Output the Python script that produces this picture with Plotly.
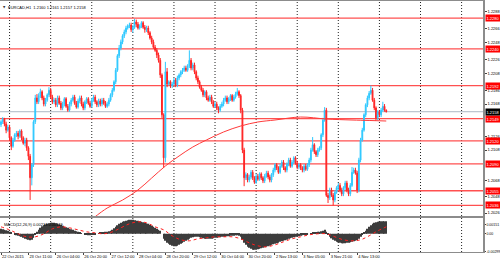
import plotly.graph_objects as go

symbol_title = "EURCAD,H1  1.2160 1.2161 1.2157 1.2158"
macd_title = "MACD(12,26,9) 0.00213 0.00119"

opens = [
    1.2141, 1.2145, 1.2149, 1.2142, 1.2134, 1.2138, 1.2124, 1.2113, 1.2121, 1.2128,
    1.2130, 1.2126, 1.2133, 1.2124, 1.2117, 1.2121, 1.2111, 1.2100, 1.2072, 1.2089,
    1.2145, 1.2176, 1.2171, 1.2179, 1.2184, 1.2176, 1.2168, 1.2173, 1.2180, 1.2186,
    1.2177, 1.2171, 1.2173, 1.2167, 1.2176, 1.2169, 1.2163, 1.2168, 1.2175, 1.2165,
    1.2160, 1.2168, 1.2173, 1.2177, 1.2169, 1.2164, 1.2172, 1.2176, 1.2168, 1.2163,
    1.2171, 1.2175, 1.2169, 1.2165, 1.2173, 1.2177, 1.2171, 1.2167, 1.2172, 1.2168,
    1.2173, 1.2169, 1.2165, 1.2168, 1.2173, 1.2180, 1.2186, 1.2197, 1.2212, 1.2231,
    1.2241, 1.2249, 1.2257, 1.2262, 1.2267, 1.2270, 1.2271, 1.2265, 1.2268, 1.2275,
    1.2272, 1.2267, 1.2270, 1.2274, 1.2268, 1.2265, 1.2267, 1.2261, 1.2254, 1.2249,
    1.2242, 1.2238, 1.2232, 1.2225, 1.2206, 1.2154, 1.2098, 1.2210, 1.2194, 1.2197,
    1.2192, 1.2194, 1.2199, 1.2193, 1.2202, 1.2206, 1.2210, 1.2212, 1.2215, 1.2212,
    1.2218, 1.2225, 1.2215, 1.2219, 1.2210, 1.2202, 1.2197, 1.2190, 1.2186, 1.2180,
    1.2184, 1.2176, 1.2173, 1.2177, 1.2171, 1.2165, 1.2168, 1.2163, 1.2160, 1.2165,
    1.2168, 1.2173, 1.2176, 1.2171, 1.2175, 1.2179, 1.2173, 1.2177, 1.2181, 1.2184,
    1.2179, 1.2160, 1.2108, 1.2072, 1.2076, 1.2069, 1.2073, 1.2079, 1.2072, 1.2066,
    1.2074, 1.2070, 1.2077, 1.2072, 1.2068, 1.2074, 1.2078, 1.2073, 1.2069, 1.2076,
    1.2082, 1.2089, 1.2085, 1.2079, 1.2087, 1.2092, 1.2085, 1.2082, 1.2090, 1.2095,
    1.2087, 1.2092, 1.2098, 1.2091, 1.2086, 1.2089, 1.2085, 1.2082, 1.2087, 1.2083,
    1.2089, 1.2095, 1.2108, 1.2115, 1.2106, 1.2102, 1.2108, 1.2111, 1.2128, 1.2147,
    1.2160, 1.2049, 1.2046, 1.2056, 1.2049, 1.2043, 1.2053, 1.2059, 1.2062, 1.2056,
    1.2051, 1.2059, 1.2065, 1.2056, 1.2051, 1.2062, 1.2079, 1.2082, 1.2078, 1.2056,
    1.2095, 1.2121, 1.2134, 1.2154, 1.2167, 1.2176, 1.2182, 1.2186, 1.2173, 1.2163,
    1.2150, 1.2158, 1.2154, 1.2160, 1.2165, 1.2160,
]

highs = [
    1.2147, 1.2151, 1.2150, 1.2145, 1.2141, 1.2141, 1.2126, 1.2124, 1.2130, 1.2133,
    1.2133, 1.2135, 1.2135, 1.2126, 1.2124, 1.2124, 1.2113, 1.2103, 1.2091, 1.2147,
    1.2180, 1.2181, 1.2182, 1.2188, 1.2186, 1.2179, 1.2176, 1.2182, 1.2190, 1.2189,
    1.2180, 1.2176, 1.2176, 1.2179, 1.2179, 1.2172, 1.2171, 1.2177, 1.2177, 1.2168,
    1.2171, 1.2176, 1.2180, 1.2180, 1.2172, 1.2175, 1.2179, 1.2179, 1.2171, 1.2173,
    1.2177, 1.2177, 1.2172, 1.2176, 1.2180, 1.2180, 1.2173, 1.2175, 1.2175, 1.2176,
    1.2176, 1.2172, 1.2171, 1.2176, 1.2182, 1.2189, 1.2199, 1.2215, 1.2233, 1.2245,
    1.2252, 1.2259, 1.2265, 1.2270, 1.2272, 1.2274, 1.2274, 1.2271, 1.2279, 1.2278,
    1.2275, 1.2272, 1.2276, 1.2276, 1.2271, 1.2270, 1.2270, 1.2263, 1.2257, 1.2252,
    1.2245, 1.2241, 1.2235, 1.2228, 1.2208, 1.2156, 1.2223, 1.2215, 1.2199, 1.2199,
    1.2197, 1.2202, 1.2202, 1.2205, 1.2208, 1.2212, 1.2215, 1.2218, 1.2218, 1.2220,
    1.2238, 1.2228, 1.2222, 1.2222, 1.2212, 1.2205, 1.2199, 1.2193, 1.2189, 1.2186,
    1.2186, 1.2179, 1.2180, 1.2180, 1.2173, 1.2171, 1.2171, 1.2165, 1.2168, 1.2171,
    1.2176, 1.2179, 1.2179, 1.2177, 1.2181, 1.2181, 1.2180, 1.2184, 1.2189, 1.2186,
    1.2181, 1.2163, 1.2111, 1.2079, 1.2078, 1.2076, 1.2082, 1.2082, 1.2074, 1.2077,
    1.2077, 1.2079, 1.2079, 1.2074, 1.2077, 1.2081, 1.2081, 1.2076, 1.2078, 1.2085,
    1.2091, 1.2091, 1.2087, 1.2090, 1.2095, 1.2095, 1.2087, 1.2092, 1.2098, 1.2098,
    1.2095, 1.2100, 1.2100, 1.2094, 1.2091, 1.2091, 1.2087, 1.2090, 1.2090, 1.2091,
    1.2098, 1.2111, 1.2125, 1.2117, 1.2108, 1.2111, 1.2113, 1.2130, 1.2150, 1.2164,
    1.2163, 1.2052, 1.2059, 1.2059, 1.2052, 1.2056, 1.2061, 1.2065, 1.2065, 1.2059,
    1.2061, 1.2068, 1.2068, 1.2059, 1.2065, 1.2086, 1.2085, 1.2085, 1.2081, 1.2098,
    1.2124, 1.2137, 1.2156, 1.2169, 1.2179, 1.2185, 1.2192, 1.2189, 1.2176, 1.2165,
    1.2160, 1.2160, 1.2163, 1.2171, 1.2168, 1.2161,
]

lows = [
    1.2138, 1.2142, 1.2139, 1.2130, 1.2132, 1.2120, 1.2108, 1.2111, 1.2119, 1.2125,
    1.2122, 1.2124, 1.2121, 1.2115, 1.2113, 1.2107, 1.2095, 1.2043, 1.2062, 1.2086,
    1.2142, 1.2168, 1.2168, 1.2176, 1.2173, 1.2165, 1.2165, 1.2171, 1.2177, 1.2175,
    1.2168, 1.2168, 1.2164, 1.2164, 1.2167, 1.2160, 1.2160, 1.2165, 1.2163, 1.2158,
    1.2158, 1.2165, 1.2171, 1.2167, 1.2162, 1.2162, 1.2169, 1.2165, 1.2160, 1.2160,
    1.2168, 1.2167, 1.2163, 1.2163, 1.2171, 1.2168, 1.2164, 1.2164, 1.2165, 1.2165,
    1.2167, 1.2163, 1.2163, 1.2165, 1.2171, 1.2177, 1.2184, 1.2194, 1.2210, 1.2228,
    1.2238, 1.2246, 1.2254, 1.2259, 1.2265, 1.2267, 1.2262, 1.2261, 1.2266, 1.2268,
    1.2265, 1.2265, 1.2267, 1.2266, 1.2261, 1.2262, 1.2258, 1.2252, 1.2246, 1.2240,
    1.2236, 1.2228, 1.2222, 1.2202, 1.2150, 1.2085, 1.2092, 1.2190, 1.2192, 1.2189,
    1.2189, 1.2192, 1.2190, 1.2190, 1.2199, 1.2203, 1.2207, 1.2210, 1.2210, 1.2210,
    1.2215, 1.2212, 1.2212, 1.2207, 1.2199, 1.2194, 1.2188, 1.2184, 1.2177, 1.2177,
    1.2173, 1.2171, 1.2171, 1.2168, 1.2163, 1.2163, 1.2160, 1.2156, 1.2158, 1.2163,
    1.2165, 1.2171, 1.2168, 1.2168, 1.2172, 1.2171, 1.2171, 1.2175, 1.2179, 1.2176,
    1.2156, 1.2104, 1.2061, 1.2069, 1.2066, 1.2066, 1.2070, 1.2069, 1.2064, 1.2064,
    1.2068, 1.2068, 1.2069, 1.2065, 1.2065, 1.2072, 1.2070, 1.2066, 1.2066, 1.2073,
    1.2079, 1.2082, 1.2077, 1.2077, 1.2085, 1.2082, 1.2079, 1.2079, 1.2087, 1.2085,
    1.2085, 1.2090, 1.2089, 1.2083, 1.2083, 1.2082, 1.2079, 1.2079, 1.2081, 1.2081,
    1.2086, 1.2092, 1.2106, 1.2103, 1.2099, 1.2099, 1.2106, 1.2108, 1.2125, 1.2145,
    1.2047, 1.2039, 1.2043, 1.2047, 1.2036, 1.2040, 1.2051, 1.2056, 1.2053, 1.2048,
    1.2048, 1.2056, 1.2053, 1.2048, 1.2048, 1.2060, 1.2077, 1.2076, 1.2052, 1.2053,
    1.2092, 1.2119, 1.2132, 1.2151, 1.2164, 1.2173, 1.2180, 1.2171, 1.2160, 1.2146,
    1.2147, 1.2151, 1.2151, 1.2158, 1.2158, 1.2157,
]

closes = [
    1.2145, 1.2149, 1.2142, 1.2134, 1.2138, 1.2124, 1.2113, 1.2121, 1.2128, 1.2130,
    1.2126, 1.2133, 1.2124, 1.2117, 1.2121, 1.2111, 1.2100, 1.2072, 1.2089, 1.2145,
    1.2176, 1.2171, 1.2179, 1.2184, 1.2176, 1.2168, 1.2173, 1.2180, 1.2186, 1.2177,
    1.2171, 1.2173, 1.2167, 1.2176, 1.2169, 1.2163, 1.2168, 1.2175, 1.2165, 1.2160,
    1.2168, 1.2173, 1.2177, 1.2169, 1.2164, 1.2172, 1.2176, 1.2168, 1.2163, 1.2171,
    1.2175, 1.2169, 1.2165, 1.2173, 1.2177, 1.2171, 1.2167, 1.2172, 1.2168, 1.2173,
    1.2169, 1.2165, 1.2168, 1.2173, 1.2180, 1.2186, 1.2197, 1.2212, 1.2231, 1.2241,
    1.2249, 1.2257, 1.2262, 1.2267, 1.2270, 1.2271, 1.2265, 1.2268, 1.2275, 1.2272,
    1.2267, 1.2270, 1.2274, 1.2268, 1.2265, 1.2267, 1.2261, 1.2254, 1.2249, 1.2242,
    1.2238, 1.2232, 1.2225, 1.2206, 1.2154, 1.2098, 1.2210, 1.2194, 1.2197, 1.2192,
    1.2194, 1.2199, 1.2193, 1.2202, 1.2206, 1.2210, 1.2212, 1.2215, 1.2212, 1.2218,
    1.2225, 1.2215, 1.2219, 1.2210, 1.2202, 1.2197, 1.2190, 1.2186, 1.2180, 1.2184,
    1.2176, 1.2173, 1.2177, 1.2171, 1.2165, 1.2168, 1.2163, 1.2160, 1.2165, 1.2168,
    1.2173, 1.2176, 1.2171, 1.2175, 1.2179, 1.2173, 1.2177, 1.2181, 1.2184, 1.2179,
    1.2160, 1.2108, 1.2072, 1.2076, 1.2069, 1.2073, 1.2079, 1.2072, 1.2066, 1.2074,
    1.2070, 1.2077, 1.2072, 1.2068, 1.2074, 1.2078, 1.2073, 1.2069, 1.2076, 1.2082,
    1.2089, 1.2085, 1.2079, 1.2087, 1.2092, 1.2085, 1.2082, 1.2090, 1.2095, 1.2087,
    1.2092, 1.2098, 1.2091, 1.2086, 1.2089, 1.2085, 1.2082, 1.2087, 1.2083, 1.2089,
    1.2095, 1.2108, 1.2115, 1.2106, 1.2102, 1.2108, 1.2111, 1.2128, 1.2147, 1.2160,
    1.2049, 1.2046, 1.2056, 1.2049, 1.2043, 1.2053, 1.2059, 1.2062, 1.2056, 1.2051,
    1.2059, 1.2065, 1.2056, 1.2051, 1.2062, 1.2079, 1.2082, 1.2078, 1.2056, 1.2095,
    1.2121, 1.2134, 1.2154, 1.2167, 1.2176, 1.2182, 1.2186, 1.2173, 1.2163, 1.2150,
    1.2158, 1.2154, 1.2160, 1.2165, 1.2160, 1.2158,
]

bars = list(range(len(closes)))

time_tick_bars = [0, 16, 32, 48, 64, 80, 96, 112, 128, 144, 160, 176, 192, 208]
time_tick_labels = ["22 Oct 2015", "23 Oct 11:00", "26 Oct 04:00", "26 Oct 20:00",
                    "27 Oct 12:00", "28 Oct 04:00", "28 Oct 20:00", "29 Oct 12:00",
                    "30 Oct 04:00", "30 Oct 20:00", "2 Nov 13:00", "3 Nov 05:00",
                    "3 Nov 21:00", "4 Nov 13:00"]
day_separator_bars = [5, 29, 53, 77, 101, 125, 149, 173, 197, 221, 245, 269]

price_ticks = [1.2288, 1.2266, 1.2248, 1.2226, 1.2208, 1.2186, 1.2168,
               1.2126, 1.2108, 1.2068, 1.2048, 1.2026]
level_prices = [1.2280, 1.2240, 1.2192, 1.2149, 1.2120, 1.2090, 1.2055, 1.2036]
current_price = 1.2158

ma_bars = [54, 62, 71, 80, 88, 96, 104, 112, 120, 130, 140, 150, 160, 175, 190, 205, 215, 225]
ma_values = [1.20195, 1.20325, 1.20429, 1.20560, 1.20716, 1.20873, 1.21003, 1.21120, 1.21212,
             1.21316, 1.21394, 1.21446, 1.21472, 1.21511, 1.21485, 1.21472, 1.21466, 1.21459]

macd_hist = [
    0.00085, 0.00077, 0.00068, 0.00060, 0.00051, 0.00034,
    0.00017, 0.0, -0.00017, -0.00026, -0.00034, -0.00043,
    -0.00051, -0.00068, -0.00085, -0.00094, -0.00102, -0.00111, -0.00102, -0.00068,
    -0.00017, 0.00034, 0.00068, 0.00102,
    0.00128, 0.00145, 0.00162, 0.00171, 0.00179, 0.00188, 0.00188, 0.00188, 0.00179, 0.00171, 0.00162, 0.00154,
    0.00136, 0.00119, 0.00111, 0.00102, 0.00085, 0.00077, 0.00068, 0.00051, 0.00043, 0.00034, 0.00017,
    0.00009, 0.0, -0.00009, -0.00017, -0.00026, -0.00026, -0.00017, -0.00017, -0.00009,
    0.0, 0.00009, 0.00017, 0.00017, 0.00026, 0.00034, 0.00034, 0.00043, 0.00051,
    0.00068, 0.00094, 0.00119, 0.00145, 0.00171, 0.00188, 0.00205, 0.00213, 0.00222,
    0.00230, 0.00239, 0.00239, 0.00239, 0.00230, 0.00222, 0.00222,
    0.00213, 0.00205, 0.00196, 0.00188, 0.00179, 0.00171, 0.00154, 0.00136, 0.00119, 0.00102, 0.00085, 0.00068,
    0.00051, 0.0,
    -0.00085, -0.00119, -0.00154, -0.00171, -0.00188, -0.00205, -0.00213, -0.00213, -0.00205, -0.00188, -0.00171, -0.00154,
    -0.00136, -0.00119, -0.00102, -0.00085, -0.00068, -0.00060,
    -0.00051, -0.00051, -0.00051, -0.00060, -0.00068, -0.00077, -0.00085, -0.00085, -0.00085, -0.00085, -0.00085, -0.00077, -0.00068,
    -0.00068, -0.00060, -0.00060, -0.00051, -0.00051, -0.00051, -0.00043, -0.00043, -0.00034, -0.00034, -0.00034, -0.00026, -0.00026, -0.00034,
    -0.00051, -0.00102, -0.00154, -0.00188, -0.00222, -0.00239,
    -0.00256, -0.00273, -0.00273, -0.00273, -0.00264, -0.00256, -0.00247, -0.00239, -0.00230, -0.00222, -0.00213, -0.00205,
    -0.00188, -0.00179, -0.00171, -0.00162, -0.00154, -0.00136, -0.00128, -0.00119, -0.00111, -0.00102, -0.00085, -0.00077, -0.00068,
    -0.00060, -0.00051, -0.00051, -0.00043, -0.00034, -0.00026, -0.00017, -0.00017, -0.00009, 0.0, 0.00009, 0.00017, 0.00017, 0.00026, 0.00034, 0.00034, 0.00043,
    0.00051, 0.00068, 0.00034,
    -0.00017, -0.00051, -0.00077, -0.00102, -0.00119, -0.00136, -0.00145, -0.00154, -0.00162, -0.00162,
    -0.00162, -0.00154, -0.00154, -0.00145, -0.00136, -0.00128, -0.00119, -0.00111,
    -0.00085, -0.00051, -0.00017, 0.00017, 0.00051, 0.00085, 0.00119, 0.00145,
    0.00171, 0.00188, 0.00196, 0.00205, 0.00205, 0.00213, 0.00213, 0.00213, 0.00213,
]

signal_bars = [0, 5, 10, 15, 20, 25, 30, 35, 40, 45, 50, 55, 60, 65, 70, 75, 80, 85, 90, 95,
               100, 105, 110, 115, 120, 125, 130, 135, 140, 145, 150, 155, 160, 165, 170,
               175, 180, 185, 190, 195, 200, 205, 210, 215, 220, 225]
signal_values = [0.00119, 0.00068, 0.0, -0.00051, -0.00051, 0.0, 0.00085, 0.00119, 0.00102,
                 0.00068, 0.00034, 0.00017, 0.0, 0.00034, 0.00102, 0.00171, 0.00205, 0.00188,
                 0.00119, 0.00068, -0.00034, -0.00102, -0.00119, -0.00085, -0.00068, -0.00051,
                 -0.00051, -0.00051, -0.00085, -0.00154, -0.00205, -0.00222, -0.00188, -0.00136,
                 -0.00085, -0.00051, -0.00017, 0.0, 0.0, -0.00051, -0.00102, -0.00119, -0.00102,
                 -0.00034, 0.00051, 0.00119]

macd_tick_vals = [0.00151, 0.0, -0.00299]
macd_tick_text = ["0.00151", "0.00", "-0.00299"]

FONT = "Liberation Sans, Arial, sans-serif"
AXIS_GRAY = "#8c8c8c"

fig = go.Figure()

fig.add_trace(go.Candlestick(
    x=bars, open=opens, high=highs, low=lows, close=closes,
    increasing=dict(line=dict(color="#2EC8FF", width=1), fillcolor="#2EC8FF"),
    decreasing=dict(line=dict(color="#FF2424", width=1), fillcolor="#FF2424"),
    whiskerwidth=0, hoverinfo="skip", xaxis="x", yaxis="y",
))

fig.add_trace(go.Scatter(
    x=ma_bars, y=ma_values, mode="lines",
    line=dict(color="#FF3A3A", width=1, shape="spline"),
    hoverinfo="skip", xaxis="x", yaxis="y",
))

fig.add_trace(go.Bar(
    x=bars, y=macd_hist, marker=dict(color="#3c3c3c", line=dict(width=0)),
    hoverinfo="skip", xaxis="x2", yaxis="y2",
))

fig.add_trace(go.Scatter(
    x=signal_bars, y=signal_values, mode="lines",
    line=dict(color="#FF1E1E", width=1, dash="dot", shape="spline"),
    hoverinfo="skip", xaxis="x2", yaxis="y2",
))

shapes = []
for b in day_separator_bars:
    shapes.append(dict(type="line", xref="x", yref="paper", x0=b, x1=b, y0=0, y1=1,
                       line=dict(color="#222222", width=1, dash="1px,2px"), layer="below"))
for p in level_prices:
    shapes.append(dict(type="line", xref="paper", yref="y", x0=0, x1=1, y0=p, y1=p,
                       line=dict(color="#FF5050", width=1.3), layer="below"))
shapes.append(dict(type="line", xref="paper", yref="y", x0=0, x1=1,
                   y0=current_price, y1=current_price,
                   line=dict(color="#AEB8C4", width=1), layer="below"))

annotations = []
for p in level_prices:
    annotations.append(dict(xref="paper", yref="y", x=1, y=p, xanchor="left", yanchor="middle",
                            xshift=2, text=f"{p:.4f}", showarrow=False, bgcolor="#FF0000",
                            borderpad=0.5, font=dict(family=FONT, size=4, color="white")))
annotations.append(dict(xref="paper", yref="y", x=1, y=current_price, xanchor="left",
                        yanchor="middle", xshift=2, text=f"{current_price:.4f}",
                        showarrow=False, bgcolor="#000000", borderpad=0.5,
                        font=dict(family=FONT, size=4, color="white")))
annotations.append(dict(xref="paper", yref="paper", x=0, y=1, xanchor="left", yanchor="top",
                        xshift=1, yshift=-2, text="▼", showarrow=False,
                        font=dict(family="DejaVu Sans", size=3, color="#333333")))
annotations.append(dict(xref="paper", yref="paper", x=0, y=1, xanchor="left", yanchor="top",
                        xshift=6, yshift=-2, text=symbol_title, showarrow=False,
                        font=dict(family=FONT, size=4, color="black")))
annotations.append(dict(xref="paper", yref="y2 domain", x=0, y=1, xanchor="left", yanchor="top",
                        xshift=2, yshift=-2, text=macd_title, showarrow=False,
                        font=dict(family=FONT, size=4, color="black")))

x_range = [-0.584, 281.5]

fig.update_layout(
    width=500, height=261,
    margin=dict(l=0, r=17, t=1, b=9, autoexpand=False),
    paper_bgcolor="white", plot_bgcolor="white",
    showlegend=False, bargap=0.35,
    font=dict(family=FONT, size=4, color="black"),
    shapes=shapes, annotations=annotations,
    xaxis=dict(domain=[0, 1], range=x_range, anchor="y", showticklabels=False,
               showgrid=False, zeroline=False, showline=True, mirror=True,
               linecolor=AXIS_GRAY, linewidth=1, ticks="", fixedrange=True,
               rangeslider=dict(visible=False)),
    yaxis=dict(domain=[0.1434, 1], range=[1.20221, 1.23023], side="right",
               tickmode="array", tickvals=price_ticks,
               ticktext=[f"{v:.4f}" for v in price_ticks],
               ticks="outside", ticklen=2, tickcolor="#444444", tickwidth=1,
               tickfont=dict(family=FONT, size=4, color="black"),
               showgrid=False, zeroline=False, showline=True, linecolor=AXIS_GRAY,
               linewidth=1.5, automargin=False),
    xaxis2=dict(domain=[0, 1], range=x_range, anchor="y2", matches="x",
                tickmode="array", tickvals=time_tick_bars, ticktext=time_tick_labels,
                ticks="outside", ticklen=2, tickcolor="#444444", tickangle=0,
                ticklabelposition="outside right",
                tickfont=dict(family=FONT, size=4, color="black"),
                showgrid=False, zeroline=False, showline=True, mirror=True,
                linecolor=AXIS_GRAY, linewidth=1, automargin=False,
                rangeslider=dict(visible=False)),
    yaxis2=dict(domain=[0, 0.1355], range=[-0.0031, 0.0027], side="right",
                tickmode="array", tickvals=macd_tick_vals, ticktext=macd_tick_text,
                ticks="outside", ticklen=1, tickcolor="#444444", ticklabelstandoff=0,
                tickfont=dict(family=FONT, size=3.5, color="black"),
                showgrid=False, zeroline=False, showline=True, linecolor=AXIS_GRAY,
                linewidth=1.5, automargin=False),
)

fig.write_html("out.html")
